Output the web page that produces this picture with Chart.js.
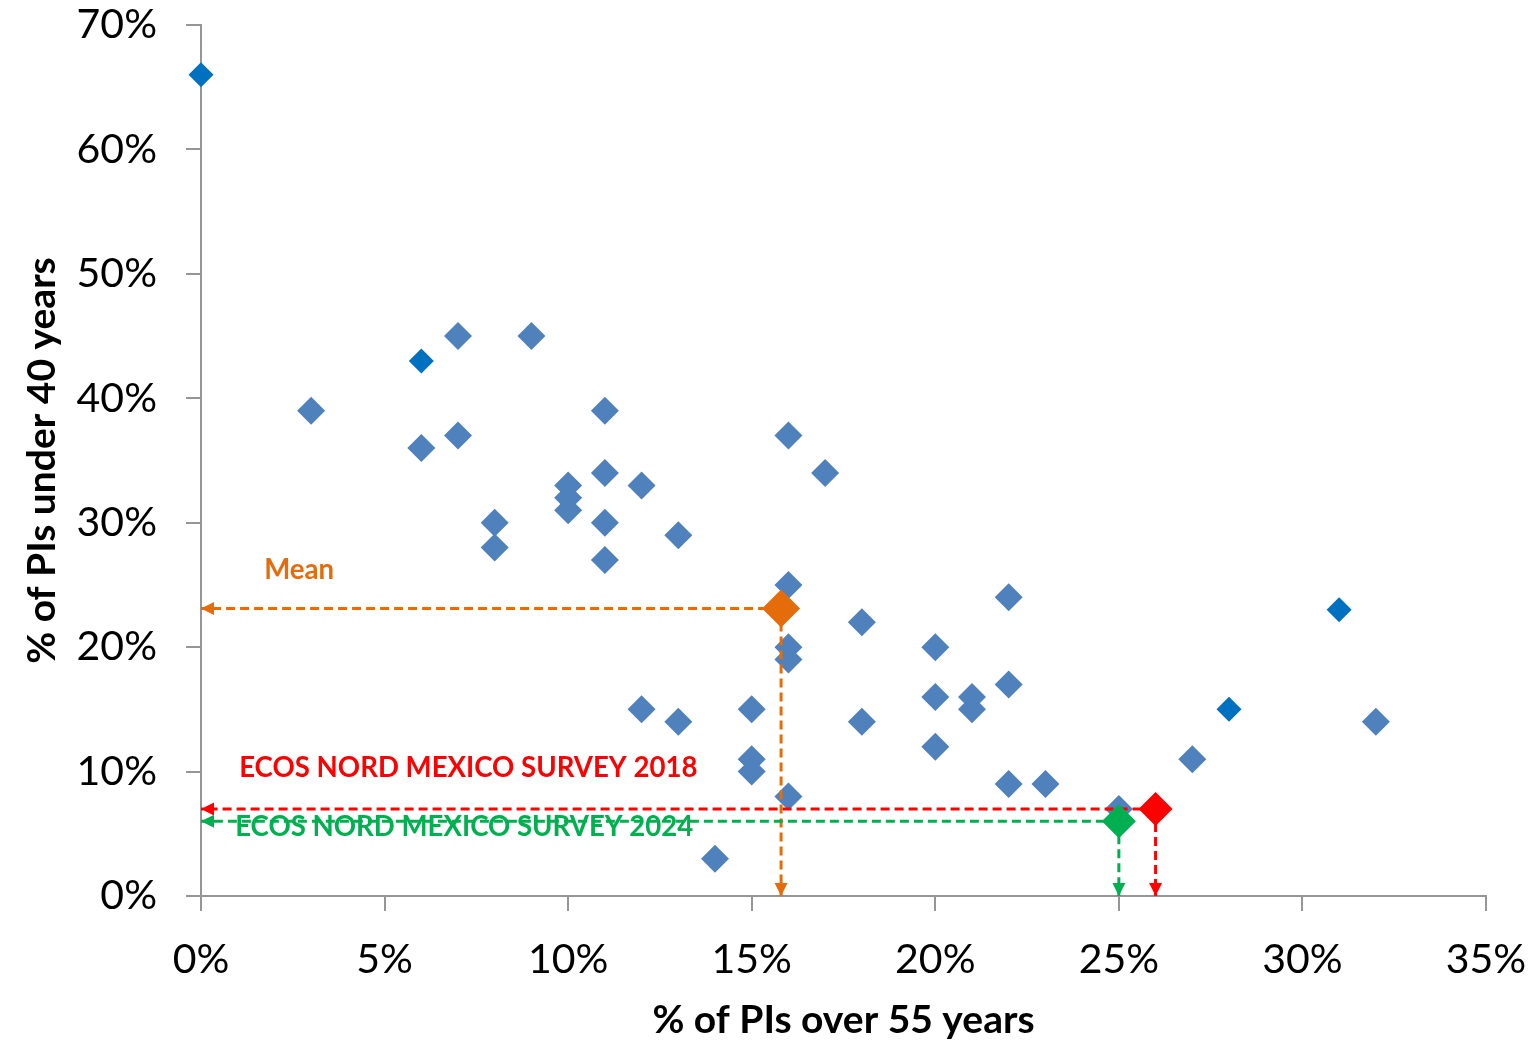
<!DOCTYPE html>
<html>
<head>
<meta charset="utf-8">
<script src="https://cdn.jsdelivr.net/npm/chart.js@4.4.1/dist/chart.umd.min.js"></script>
<style>
  html, body { margin: 0; padding: 0; background: #fff; }
  #wrap { width: 1537px; height: 1052px; position: relative; }
</style>
</head>
<body>
<div id="wrap"><canvas id="pi-age-chart"></canvas></div>
<script>
/*
 * Share of PIs over 55 vs share of PIs under 40
**/

// x: % of PIs over 55 years, y: % of PIs under 40 years
const overFiftyFive = [3, 6, 7, 7, 9, 8, 8, 10, 10, 10, 11, 11, 11, 11, 12, 13, 12, 13, 14, 15, 15, 15,
  16, 16, 16, 16, 16, 17, 18, 18, 20, 20, 20, 21, 21, 22, 22, 22, 23, 25, 27, 32]
const underForty = [39, 36, 45, 37, 45, 30, 28, 33, 32, 31, 39, 34, 30, 27, 33, 29, 15, 14, 3, 15, 11, 10,
  37, 25, 20, 19, 8, 34, 22, 14, 20, 16, 12, 16, 15, 24, 17, 9, 9, 7, 11, 14]

// the few points drawn in the darker blue
const highlightOver = [0, 6, 28, 31]
const highlightUnder = [66, 43, 15, 23]

// reference points: [over 55, under 40]
const meanPoint = [15.8, 23.1]
const survey2018 = [26, 7]
const survey2024 = [25, 6]

const xTicks = [0, 5, 10, 15, 20, 25, 30, 35]
const yTicks = [0, 10, 20, 30, 40, 50, 60, 70]

const textLabels = [
  { text: 'Mean', at: [1.72, 26.2], color: '#E46C0A' },
  { text: 'ECOS NORD MEXICO SURVEY 2018', at: [1.04, 10.3], color: '#FF0000' },
  { text: 'ECOS NORD MEXICO SURVEY 2024', at: [0.93, 5.5], color: '#00B050' }
]

const FONT = 'Lato, "Open Sans", sans-serif'
const AXIS_GREY = '#969696'

const toXY = (xs, ys) => xs.map((x, i) => ({ x: x, y: ys[i] }))

// dashed leader from a point to both axes
const leaders = (pt, color) => {
  const base = {
    type: 'line',
    borderColor: color,
    borderWidth: 3,
    borderDash: [9, 5],
    pointRadius: 0,
    fill: false,
    arrowHead: true,
    clip: false,
    order: 5
  }
  return [
    Object.assign({}, base, { data: [{ x: pt[0], y: pt[1] }, { x: xTicks[0], y: pt[1] }] }),
    Object.assign({}, base, { data: [{ x: pt[0], y: pt[1] }, { x: pt[0], y: yTicks[0] }] })
  ]
}

const marker = (pt, color, radius) => ({
  type: 'scatter',
  data: [{ x: pt[0], y: pt[1] }],
  pointStyle: 'rectRot',
  pointRadius: radius,
  backgroundColor: color,
  borderColor: color,
  borderWidth: 0,
  clip: false,
  order: 1
})

const arrowHeads = {
  id: 'arrowHeads',
  afterDatasetsDraw(chart) {
    const ctx = chart.ctx
    chart.data.datasets.forEach((ds, i) => {
      if (!ds.arrowHead) return
      const pts = chart.getDatasetMeta(i).data
      const tip = pts[pts.length - 1]
      const prev = pts[pts.length - 2]
      const ang = Math.atan2(tip.y - prev.y, tip.x - prev.x)
      ctx.save()
      ctx.translate(tip.x, tip.y)
      ctx.rotate(ang)
      ctx.fillStyle = ds.borderColor
      ctx.beginPath()
      ctx.moveTo(0, 0)
      ctx.lineTo(-13, -6.5)
      ctx.lineTo(-13, 6.5)
      ctx.closePath()
      ctx.fill()
      ctx.restore()
    })
  }
}

const textPlugin = {
  id: 'textLabels',
  afterDatasetsDraw(chart) {
    const ctx = chart.ctx
    const xs = chart.scales.x
    const ys = chart.scales.y
    ctx.save()
    ctx.font = `bold 27.6px ${FONT}`
    ctx.textAlign = 'left'
    ctx.textBaseline = 'middle'
    textLabels.forEach(lbl => {
      ctx.fillStyle = lbl.color
      ctx.fillText(lbl.text, xs.getPixelForValue(lbl.at[0]), ys.getPixelForValue(lbl.at[1]))
    })
    ctx.restore()
  }
}

const datasets = [
  marker(survey2024, '#00B050', 17),
  marker(survey2018, '#FF0000', 17),
  marker(meanPoint, '#E46C0A', 19),
  ...leaders(survey2018, '#FF0000'),
  ...leaders(survey2024, '#00B050'),
  ...leaders(meanPoint, '#E46C0A'),
  {
    type: 'scatter',
    data: toXY(highlightOver, highlightUnder),
    pointStyle: 'rectRot',
    pointRadius: 12.5,
    backgroundColor: '#0070C0',
    borderWidth: 0,
    clip: false,
    order: 8
  },
  {
    type: 'scatter',
    data: toXY(overFiftyFive, underForty),
    pointStyle: 'rectRot',
    pointRadius: 14,
    backgroundColor: '#4F81BD',
    borderWidth: 0,
    clip: false,
    order: 9
  }
]

const axis = (min, max, step, title, titlePad, tickPad) => ({
  type: 'linear',
  min: min,
  max: max,
  grid: {
    display: true,
    drawOnChartArea: false,
    drawTicks: true,
    tickLength: 15,
    color: AXIS_GREY,
    lineWidth: 2
  },
  border: { display: true, color: AXIS_GREY, width: 2 },
  ticks: {
    stepSize: step,
    padding: tickPad,
    color: '#000',
    font: { family: FONT, size: 41 },
    callback: v => `${v}%`
  },
  title: {
    display: true,
    text: title,
    color: '#000',
    padding: titlePad,
    font: { family: FONT, size: 39, weight: 'bold' }
  }
})

const xAxis = axis(xTicks[0], xTicks[xTicks.length - 1], xTicks[1] - xTicks[0],
  '% of PIs over 55 years', { top: 0, bottom: 8 }, 24)
xAxis.afterFit = scale => {
  scale.height = 156
  scale.paddingLeft = 0
  scale.paddingRight = 0
}

const yAxis = axis(yTicks[0], yTicks[yTicks.length - 1], yTicks[1] - yTicks[0],
  '% of PIs under 40 years', { top: 19, bottom: 0 }, 29)
yAxis.afterFit = scale => {
  scale.width = 201
  scale.paddingTop = 0
  scale.paddingBottom = 0
}

new Chart(document.getElementById('pi-age-chart'), {
  data: { datasets: datasets },
  options: {
    responsive: true,
    maintainAspectRatio: false,
    animation: false,
    devicePixelRatio: 1,
    events: [],
    layout: { padding: { top: 25, right: 51, left: 0, bottom: 0 } },
    scales: { x: xAxis, y: yAxis },
    plugins: {
      legend: { display: false },
      tooltip: { enabled: false }
    }
  },
  plugins: [arrowHeads, textPlugin]
})
</script>
</body>
</html>
